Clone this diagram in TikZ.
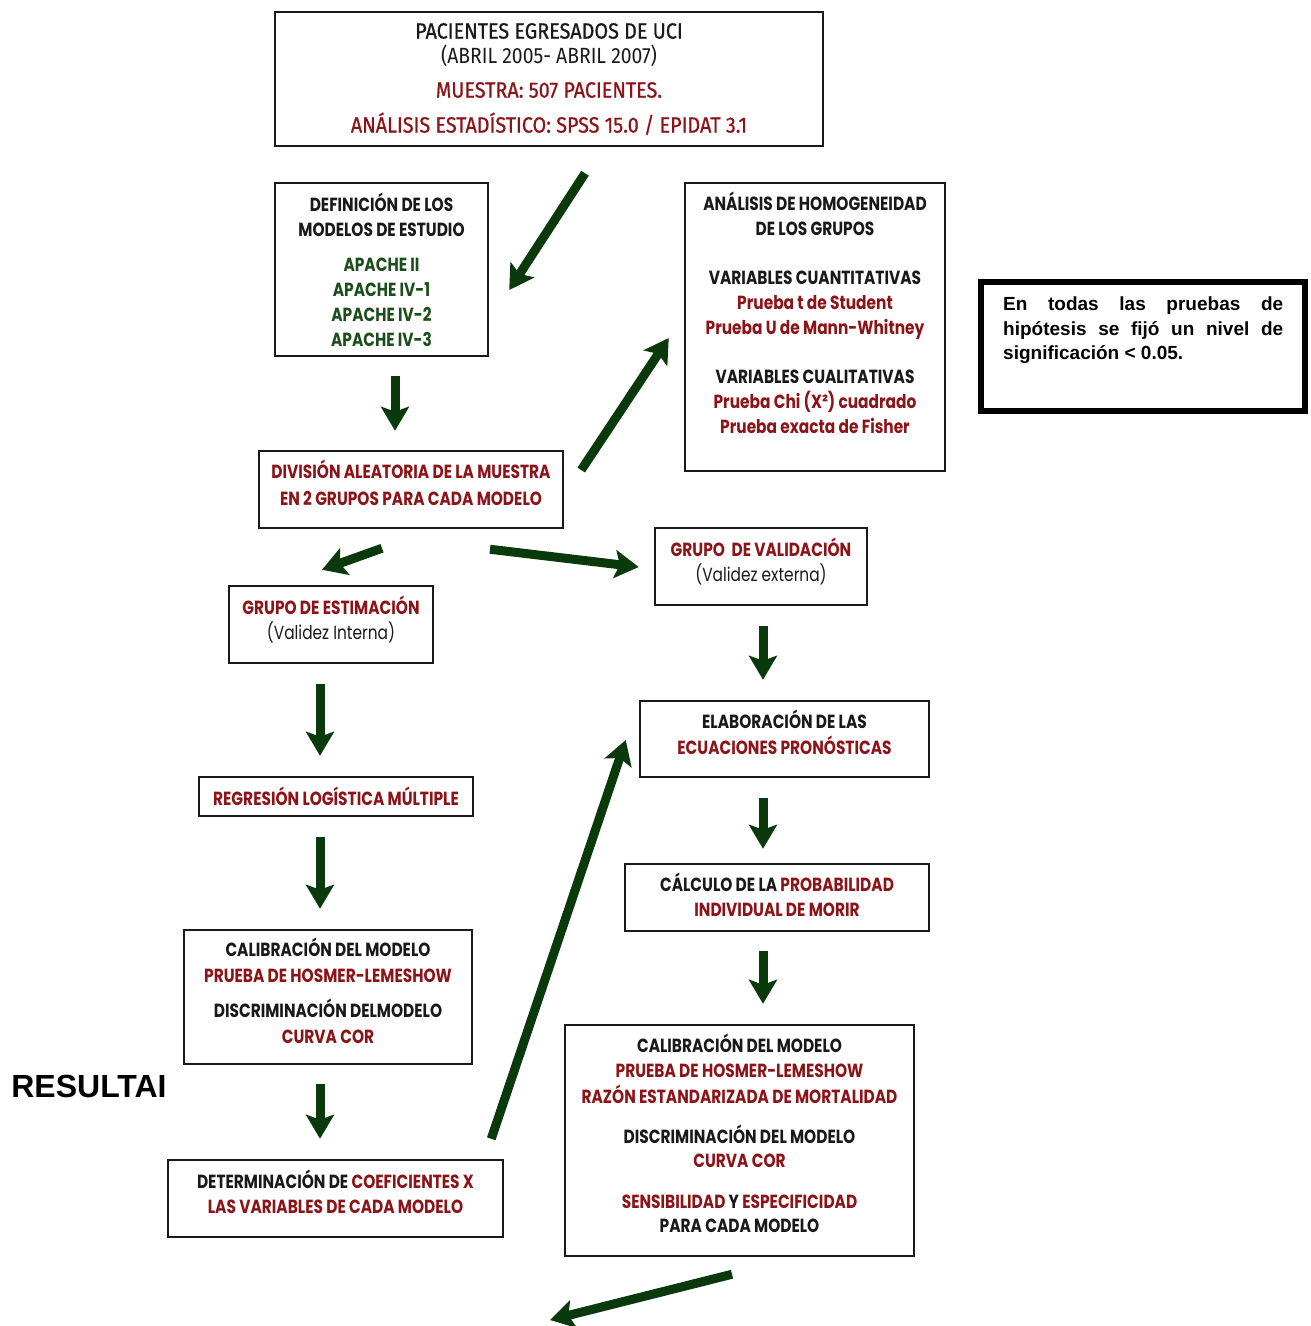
\documentclass[tikz,border=0pt]{standalone}
\usepackage{fontspec}
\setmainfont{Poppins}
\newfontfamily\gothic[FakeStretch=0.81]{Poppins}
\newfontfamily\din[FakeStretch=0.88]{Fira Sans}
\newfontfamily\dinb[FakeStretch=0.9,FakeBold=0.8]{Fira Sans}
\newfontfamily\arial{Liberation Sans}
\usetikzlibrary{arrows.meta,calc}
\definecolor{flowgreen}{RGB}{10,58,12}
\definecolor{darkred}{RGB}{140,20,25}
\definecolor{apachegreen}{RGB}{28,78,28}
\definecolor{ink}{RGB}{25,25,25}
\newcommand{\rd}[1]{\textcolor{darkred}{#1}}
\newcommand{\gr}[1]{\textcolor{apachegreen}{#1}}
\newcommand{\dn}[1]{\rule[-#1pt]{0pt}{0pt}}
\tikzset{
	box/.style={draw=ink,line width=2.5pt,align=center,inner sep=0pt,text=ink,font=\gothic\bfseries\fontsize{19}{25}\selectfont},
	flow/.style={draw=flowgreen,line width=9pt,-{Stealth[length=24pt,width=28pt,inset=5pt]}},
}
\begin{document}
\begin{tikzpicture}[x=1pt,y=-1pt]
	\useasboundingbox (0,0) rectangle (1311,1326);

	\node[box,minimum width=548pt,minimum height=134pt,font=\din\fontsize{22}{25}\selectfont] (pac) at (549,79)
		{\dinb PACIENTES EGRESADOS DE UCI\\(ABRIL 2005- ABRIL 2007)\\[9pt]\dinb\rd{MUESTRA: 507 PACIENTES.}\\[10pt]\dinb\rd{ANÁLISIS ESTADÍSTICO: SPSS 15.0 / EPIDAT 3.1}};
	\node[box,minimum width=213pt,minimum height=173pt] (def) at (381.5,269.5)
		{DEFINICIÓN DE LOS\\MODELOS DE ESTUDIO\\[10pt]\gr{APACHE II}\\\gr{APACHE IV-1}\\\gr{APACHE IV-2}\\\gr{APACHE IV-3}};
	\node[box,minimum width=260pt,minimum height=288pt] (ana) at (815,327)
		{ANÁLISIS DE HOMOGENEIDAD\\DE LOS GRUPOS\\[24pt]VARIABLES CUANTITATIVAS\\\rd{Prueba t de Student}\\\rd{Prueba U de Mann-Whitney}\\[24pt]VARIABLES CUALITATIVAS\\\rd{Prueba Chi (X²) cuadrado}\\\rd{Prueba exacta de Fisher}\dn{28}};
	\node[draw,line width=6pt,minimum width=324pt,minimum height=129pt] (note) at (1143,346.5) {};
	\node[anchor=north west,inner sep=0pt,text width=280pt,align=justify,font=\arial\bfseries\fontsize{19}{24.5}\selectfont] (notetxt) at (1003,297)
		{En todas las pruebas de \mbox{hipótesis} se fijó un nivel de \mbox{significación} < 0.05.};
	\node[box,minimum width=304pt,minimum height=77pt] (div) at (411,489.5)
		{\rd{DIVISIÓN ALEATORIA DE LA MUESTRA}\\[2pt]\rd{EN 2 GRUPOS PARA CADA MODELO}\dn{14}};
	\node[box,minimum width=212pt,minimum height=77pt] (val) at (761,566.5)
		{\rd{GRUPO \ DE VALIDACIÓN}\\\mdseries(Validez externa)\dn{14}};
	\node[box,minimum width=204pt,minimum height=77pt] (est) at (331,624.5)
		{\rd{GRUPO DE ESTIMACIÓN}\\\mdseries(Validez Interna)\dn{14}};
	\node[box,minimum width=289pt,minimum height=76pt] (ela) at (784.5,739)
		{ELABORACIÓN DE LAS\\[1pt]\rd{ECUACIONES PRONÓSTICAS}\dn{14}};
	\node[box,minimum width=274pt,minimum height=39pt] (reg) at (336,796.5)
		{\rd{REGRESIÓN LOGÍSTICA MÚLTIPLE}};
	\node[box,minimum width=304pt,minimum height=67pt] (cal) at (777,897.5)
		{CÁLCULO DE LA \rd{PROBABILIDAD}\\\rd{INDIVIDUAL DE MORIR}\dn{6}};
	\node[box,minimum width=288pt,minimum height=134pt] (calL) at (328,997)
		{CALIBRACIÓN DEL MODELO\\[1pt]\rd{PRUEBA DE HOSMER-LEMESHOW}\\[10pt]DISCRIMINACIÓN DELMODELO\\[1pt]\rd{CURVA COR}\dn{12}};
	\node[box,minimum width=349pt,minimum height=231pt] (calR) at (739.5,1140.5)
		{CALIBRACIÓN DEL MODELO\\\rd{PRUEBA DE HOSMER-LEMESHOW}\\[1pt]\rd{RAZÓN ESTANDARIZADA DE MORTALIDAD}\\[15pt]DISCRIMINACIÓN DEL MODELO\\[-1pt]\rd{CURVA COR}\\[16pt]\rd{SENSIBILIDAD} Y \rd{ESPECIFICIDAD}\\[-1pt]PARA CADA MODELO\dn{14}};
	\node[box,minimum width=335pt,minimum height=77pt] (det) at (335.5,1198.5)
		{DETERMINACIÓN DE \rd{COEFICIENTES X}\\\rd{LAS VARIABLES DE CADA MODELO}\dn{14}};
	\node[inner sep=0pt,font=\arial\bfseries\fontsize{32}{32}\selectfont] (res) at (89,1086) {RESULTAI};
	\coordinate (out) at (550,1320);

	\draw[flow] ($(pac.south)+(36,26)$) -- ($(def.east)+(20,20.5)$);
	\draw[flow] ($(def.south)+(13.5,19)$) -- ($(div.north)+(-16,-19)$);
	\draw[flow] ($(div.east)+(17,-19.5)$) -- ($(ana.west)+(-15,11)$);
	\draw[flow] ($(div.south)+(-29,19)$) -- ($(est.north)+(-9,-15)$);
	\draw[flow] ($(div.south)+(79,20)$) -- ($(val.west)+(-15,0.5)$);
	\draw[flow] ($(val.south)+(2,20)$) -- ($(ela.north)+(-21.5,-20)$);
	\draw[flow] ($(est.south)+(-11,20)$) -- ($(reg.north)+(-16,-20)$);
	\draw[flow] ($(reg.south)+(-16,20)$) -- ($(calL.north)+(-8,-20)$);
	\draw[flow] ($(calL.south)+(-8,19)$) -- ($(det.north)+(-15.5,-20)$);
	\draw[flow] ($(det.north east)+(-13,-20)$) -- ($(ela.west)+(-13,1)$);
	\draw[flow] ($(ela.south)+(-21.5,20)$) -- ($(cal.north)+(-14,-14)$);
	\draw[flow] ($(cal.south)+(-14,19)$) -- ($(calR.north)+(23.5,-20)$);
	\draw[flow] ($(calR.south)+(-7.5,17)$) -- (out);
\end{tikzpicture}
\end{document}
